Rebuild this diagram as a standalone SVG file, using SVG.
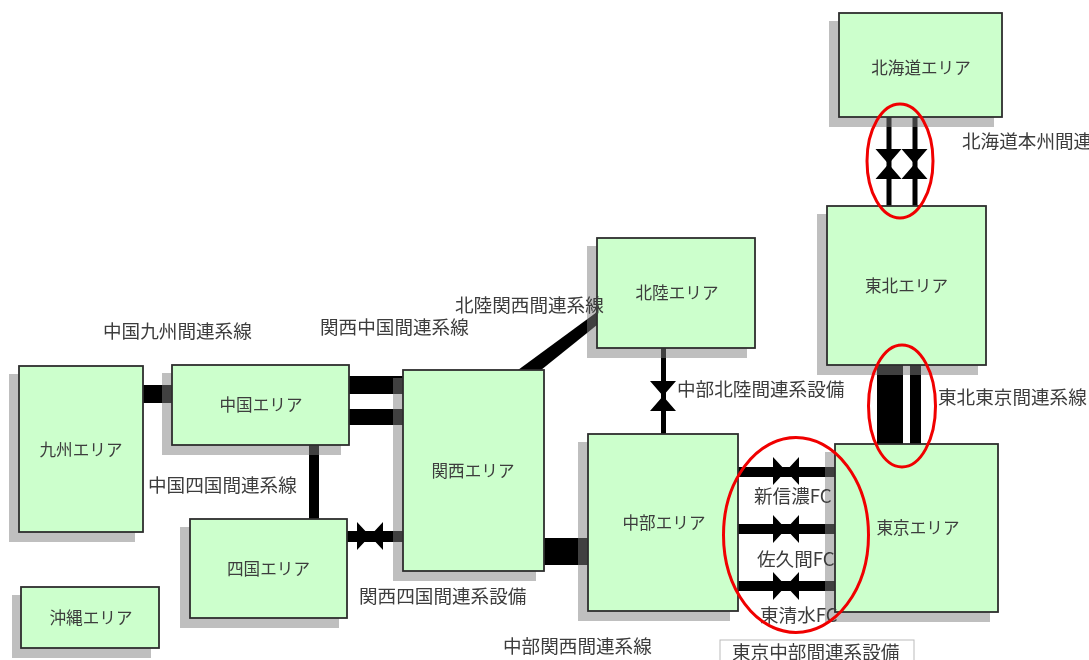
<svg xmlns="http://www.w3.org/2000/svg" width="1089" height="660" viewBox="0 0 1089 660">
<style>
.box{fill:#ccffcc;stroke:#2e2e2e;stroke-width:1.800}
.sh{fill:#808080;fill-opacity:.5}
.c{fill:#000}
.ring{fill:none;stroke:#f00000;stroke-width:3}
text{font-family:"Noto Sans CJK JP","Liberation Sans",sans-serif;fill:#3c3c3c;dominant-baseline:central}
.n{font-size:16.600px;text-anchor:middle}
.l{font-size:18.600px}
</style>
<defs>
<filter id="soft" x="-2%" y="-2%" width="104%" height="104%"><feGaussianBlur stdDeviation="0.45"/></filter>
<path id="bv" d="M-13-15H13L-13 15H13Z"/>
<path id="bh" d="M-13-14V14L13-14V14Z"/>
</defs>
<rect width="1089" height="660" fill="#fff"/>
<g filter="url(#soft)">
<g id="connectors" class="c">
<rect x="886.500" y="117" width="5" height="89"/>
<rect x="912.500" y="117" width="5" height="89"/>
<use href="#bv" x="888.500" y="164"/>
<use href="#bv" x="914.500" y="164"/>
<rect x="877" y="365" width="26" height="79"/>
<rect x="910" y="365" width="11" height="79"/>
<rect x="738" y="467" width="97" height="10"/>
<rect x="738" y="524" width="97" height="10"/>
<rect x="738" y="581" width="97" height="10"/>
<use href="#bh" x="786" y="471"/>
<use href="#bh" x="786" y="529"/>
<use href="#bh" x="786" y="586"/>
<rect x="143" y="385" width="29" height="18"/>
<rect x="349" y="376" width="54" height="18"/>
<rect x="349" y="409" width="54" height="16"/>
<rect x="309" y="445" width="10" height="74"/>
<rect x="347" y="531" width="56" height="11"/>
<use href="#bh" x="370" y="536"/>
<polygon points="518,370 541,370 597,325 597,312"/>
<rect x="661" y="348" width="5" height="86"/>
<use href="#bv" x="663" y="396"/>
<rect x="544" y="538" width="44" height="27"/>
</g>
<g id="hokkaido"><rect class="sh" x="829" y="21" width="165" height="106"/><rect class="box" x="839" y="13" width="163" height="104"/><text class="n" x="921" y="67">北海道エリア</text></g>
<g id="tohoku"><rect class="sh" x="817" y="214" width="161" height="161"/><rect class="box" x="827" y="206" width="159" height="159"/><text class="n" x="906.500" y="285">東北エリア</text></g>
<g id="hokuriku"><rect class="sh" x="587" y="246" width="160" height="112"/><rect class="box" x="597" y="238" width="158" height="110"/><text class="n" x="677" y="292">北陸エリア</text></g>
<g id="tokyo"><rect class="sh" x="825" y="452" width="165" height="170"/><rect class="box" x="835" y="444" width="163" height="168"/><text class="n" x="918" y="527">東京エリア</text></g>
<g id="chubu"><rect class="sh" x="578" y="442" width="152" height="179"/><rect class="box" x="588" y="434" width="150" height="177"/><text class="n" x="664" y="522">中部エリア</text></g>
<g id="kansai"><rect class="sh" x="393" y="378" width="143" height="203"/><rect class="box" x="403" y="370" width="141" height="201"/><text class="n" x="473" y="470">関西エリア</text></g>
<g id="chugoku"><rect class="sh" x="162" y="373" width="179" height="82"/><rect class="box" x="172" y="365" width="177" height="80"/><text class="n" x="261" y="404">中国エリア</text></g>
<g id="kyushu"><rect class="sh" x="9" y="374" width="126" height="168"/><rect class="box" x="19" y="366" width="124" height="166"/><text class="n" x="81" y="449">九州エリア</text></g>
<g id="shikoku"><rect class="sh" x="180" y="527" width="159" height="101"/><rect class="box" x="190" y="519" width="157" height="99"/><text class="n" x="268.500" y="568">四国エリア</text></g>
<g id="okinawa"><rect class="sh" x="12" y="595" width="139" height="63"/><rect class="box" x="21" y="587" width="138" height="61"/><text class="n" x="91" y="617">沖縄エリア</text></g>
<g id="labels">
<text class="l" x="103" y="329">中国九州間連系線</text>
<text class="l" x="320" y="325">関西中国間連系線</text>
<text class="l" x="455" y="303">北陸関西間連系線</text>
<text class="l" x="677" y="387">中部北陸間連系設備</text>
<text class="l" x="962" y="139">北海道本州間連系線</text>
<text class="l" x="938" y="395">東北東京間連系線</text>
<text class="l" x="148" y="483">中国四国間連系線</text>
<text class="l" x="359" y="594">関西四国間連系設備</text>
<text class="l" x="503" y="644">中部関西間連系線</text>
<text class="l" x="754" y="494">新信濃FC</text>
<text class="l" x="757" y="557">佐久間FC</text>
<text class="l" x="760" y="613">東清水FC</text>
<rect x="720" y="640" width="194" height="30" fill="#fff" stroke="#bbb" stroke-width="1"/>
<text class="l" x="732" y="650">東京中部間連系設備</text>
</g>
<g id="rings">
<ellipse class="ring" cx="900" cy="161" rx="33" ry="57"/>
<ellipse class="ring" cx="902" cy="406" rx="33.500" ry="61"/>
<ellipse class="ring" cx="796" cy="535" rx="72.500" ry="97.500"/>
</g>
</g>
</svg>
